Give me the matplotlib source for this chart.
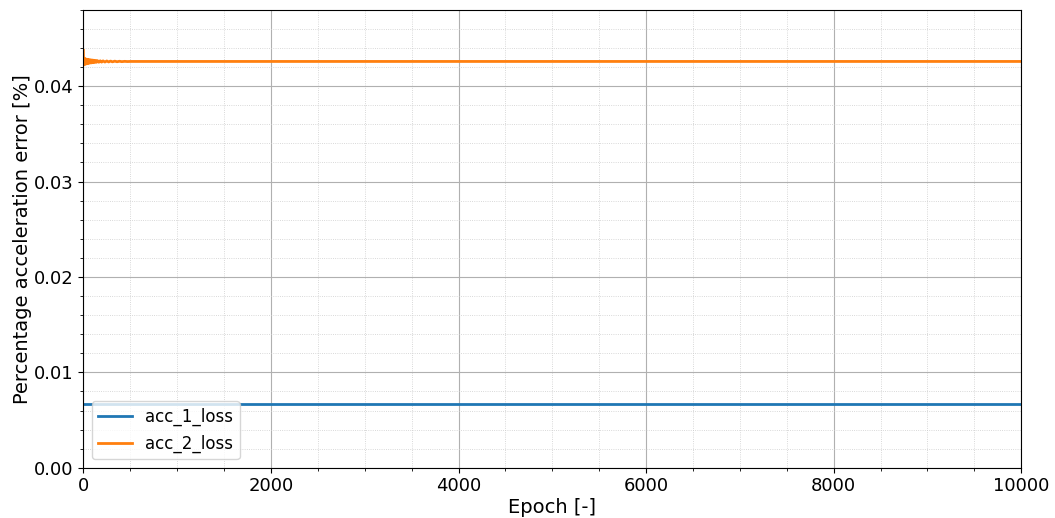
import matplotlib
matplotlib.use("Agg")
import matplotlib.pyplot as plt
from matplotlib.ticker import MultipleLocator

# loss histories (sparse samples; values hold flat once training settles)
acc_1_epochs = [0, 10000]
acc_1_loss = [0.00672, 0.00672]

acc_2_epochs = [0, 3, 8, 13, 18, 23, 28, 33, 38, 43, 48, 55, 62, 70, 78, 86,
                94, 102, 110, 120, 130, 140, 150, 165, 180, 195, 210, 230,
                250, 270, 290, 310, 335, 360, 385, 410, 440, 470, 500, 10000]
acc_2_loss = [0.04375, 0.04222, 0.04292, 0.04228, 0.04288, 0.04232, 0.04284,
              0.04234, 0.04282, 0.04236, 0.04280, 0.04240, 0.04278, 0.04242,
              0.04276, 0.04244, 0.04274, 0.04246, 0.04272, 0.04248, 0.04270,
              0.04250, 0.04268, 0.04251, 0.04266, 0.04252, 0.04265, 0.04253,
              0.04264, 0.04254, 0.04263, 0.04255, 0.04262, 0.04256, 0.04261,
              0.04257, 0.04260, 0.04258, 0.04259, 0.04259]

fig, ax = plt.subplots(figsize=(10.55, 5.18), dpi=100)
ax.plot(acc_1_epochs, acc_1_loss, color="#1f77b4", lw=2, label="acc_1_loss")
ax.plot(acc_2_epochs, acc_2_loss, color="#ff7f0e", lw=2, label="acc_2_loss")

ax.set_xlim(0, 10000)
ax.set_ylim(0, 0.048)
ax.xaxis.set_major_locator(MultipleLocator(2000))
ax.xaxis.set_minor_locator(MultipleLocator(500))
ax.yaxis.set_major_locator(MultipleLocator(0.01))
ax.yaxis.set_minor_locator(MultipleLocator(0.002))
ax.grid(which="major", color="#b0b0b0", lw=0.8)
ax.grid(which="minor", color="#cccccc", lw=0.6, ls=":")
ax.tick_params(labelsize=13)
ax.set_xlabel("Epoch [-]", fontsize=14, labelpad=2)
ax.set_ylabel("Percentage acceleration error [%]", fontsize=14, labelpad=1)
ax.legend(loc="lower left", fontsize=12)

fig.subplots_adjust(left=0.079, right=0.968, top=0.981, bottom=0.097)
fig.savefig("out.png", dpi=100)
